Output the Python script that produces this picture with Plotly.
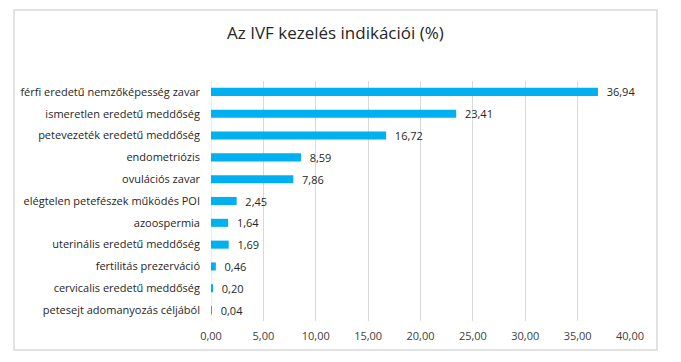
import plotly.graph_objects as go

categories = [
    "férfi eredetű nemzőképesség zavar",
    "ismeretlen eredetű meddőség",
    "petevezeték eredetű meddőség",
    "endometriózis",
    "ovulációs zavar",
    "elégtelen petefészek működés POI",
    "azoospermia",
    "uterinális eredetű meddőség",
    "fertilitás prezerváció",
    "cervicalis eredetű meddőség",
    "petesejt adomanyozás céljából",
]
values = [36.94, 23.41, 16.72, 8.59, 7.86, 2.45, 1.64, 1.69, 0.46, 0.20, 0.04]
x_ticks = [0, 5, 10, 15, 20, 25, 30, 35, 40]

OFF = 8  # default page body margin
W, H = 681 - OFF, 362 - OFF
L, R, T, B = 211 - OFF, 51, 81 - OFF, 41
pw, ph = W - L - R, H - T - B

def px_x(p):
    return (p - OFF - L) / pw

def px_y(p):
    return (H - B - (p - OFF)) / ph

FONT = "Open Sans"

fig = go.Figure()
fig.add_trace(go.Bar(
    x=values, y=categories, orientation="h",
    marker=dict(color="#00B0F0", line=dict(width=0)),
    text=values, texttemplate="  %{x:.2f}", textposition="outside",
    constraintext="none",
    textfont=dict(family=FONT, size=11, color="#262626"),
    cliponaxis=False,
))

fig.update_layout(
    width=W, height=H,
    margin=dict(l=L, r=R, t=T, b=B),
    paper_bgcolor="white", plot_bgcolor="white",
    separators=", ",
    bargap=0.63,
    showlegend=False,
    font=dict(family=FONT, size=11, color="#262626"),
    xaxis=dict(
        range=[0, 40], tickvals=x_ticks, tickformat=".2f",
        showgrid=True, gridcolor="#D9D9D9", gridwidth=1,
        zeroline=False, showline=False, ticks="", ticklabelstandoff=7,
        tickfont=dict(family=FONT, size=11, color="#404040"),
    ),
    yaxis=dict(
        autorange="reversed", showgrid=False, zeroline=False,
        showline=False, ticks="", ticklabelstandoff=10,
        tickfont=dict(family=FONT, size=11, color="#262626"),
    ),
    annotations=[dict(
        text="Az IVF kezelés indikációi (%)", xref="paper", yref="paper",
        x=px_x(335.5), y=px_y(32), xanchor="center", yanchor="middle",
        showarrow=False, font=dict(family=FONT, size=17, color="#262626"),
    )],
    shapes=[
        dict(type="rect", xref="paper", yref="paper",
             x0=px_x(14), x1=px_x(657), y0=px_y(350), y1=px_y(10),
             line=dict(color="#D9D9D9", width=1.5), layer="below"),
        dict(type="line", xref="x", yref="paper", x0=0, x1=0, y0=0, y1=1,
             line=dict(color="#D9D9D9", width=1), layer="below"),
    ],
)

fig.write_html("out.html")
